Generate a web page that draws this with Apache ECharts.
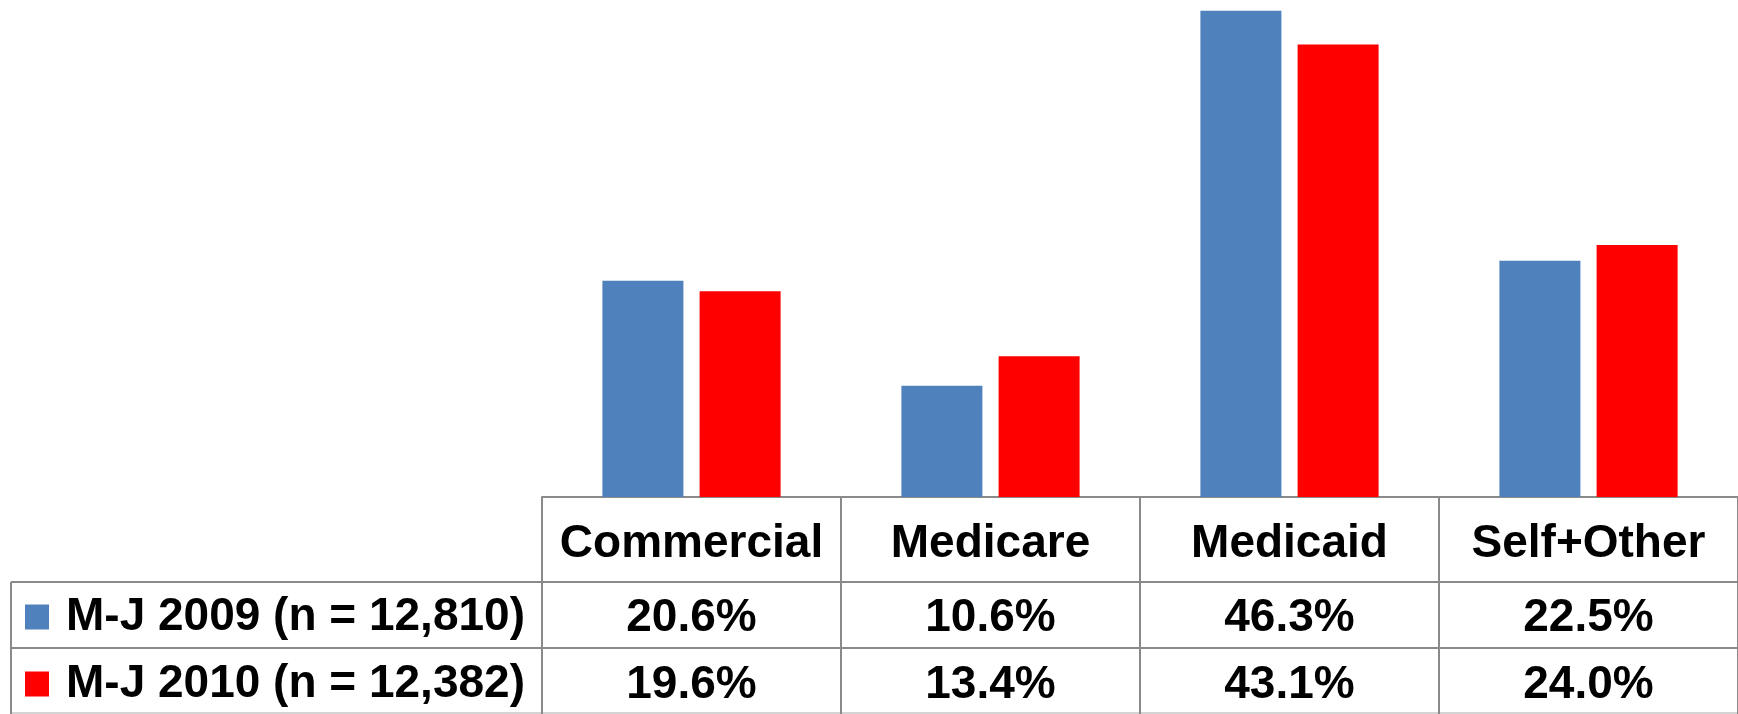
<!DOCTYPE html>
<html><head><meta charset="utf-8">
<script src="https://cdn.jsdelivr.net/npm/echarts@6/dist/echarts.min.js"></script>
<style>html,body{margin:0;padding:0;background:#fff}#c{width:1738px;height:714px}</style>
</head><body><div id="c"></div>
<script>
// ---- data ----
const categories = ['Commercial', 'Medicare', 'Medicaid', 'Self+Other'];
const seriesNames = ['M-J 2009 (n = 12,810)', 'M-J 2010 (n = 12,382)'];
const values2009 = [20.6, 10.6, 46.3, 22.5];
const values2010 = [19.6, 13.4, 43.1, 24.0];
const colors = ['#4F81BD', '#FF0000'];

// ---- layout ----
const W = 1738, H = 714;
const GRID_LEFT = 542, AXIS_Y = 497;
const ROW1 = 582, ROW2 = 648, ROW3 = 713, TABLE_LEFT = 11;
const LINE = '#8a8a8a';
const FONT = { fontFamily: '"Liberation Sans", Arial, sans-serif', fontWeight: 'bold', fontSize: 46, color: '#000' };
const fmt = v => v.toFixed(1) + '%';

const chart = echarts.init(document.getElementById('c'), null, { renderer: 'canvas' });

function valueAxis(data, margin) {
  return {
    type: 'category', gridIndex: 0, position: 'bottom', data: data,
    axisLine: { show: false }, axisTick: { show: false }, splitLine: { show: false },
    axisLabel: Object.assign({ interval: 0, margin: margin, verticalAlign: 'middle' }, FONT)
  };
}

chart.setOption({
  animation: false,
  backgroundColor: '#fff',
  grid: { left: GRID_LEFT, right: 0, top: -28, bottom: H - AXIS_Y, outerBoundsMode: 'none', containLabel: false },
  legend: {
    orient: 'vertical', left: 25, top: 594, itemGap: 21, padding: 0,
    itemWidth: 24, itemHeight: 25, icon: 'rect', selectedMode: false,
    data: seriesNames,
    textStyle: Object.assign({ lineHeight: 46, padding: [0, 0, 0, 12] }, FONT)
  },
  xAxis: [
    {
      type: 'category', gridIndex: 0, position: 'bottom', data: categories,
      axisLine: { show: true, lineStyle: { color: LINE, width: 2 } },
      axisTick: { show: true, alignWithLabel: false, inside: false, length: H - AXIS_Y, lineStyle: { color: LINE, width: 2 } },
      splitLine: { show: false },
      axisLabel: Object.assign({ interval: 0, margin: 47, verticalAlign: 'middle' }, FONT)
    },
    valueAxis(values2009.map(fmt), 121),
    valueAxis(values2010.map(fmt), 188)
  ],
  yAxis: { type: 'value', min: 0, max: 50, show: false, splitLine: { show: false } },
  series: [
    { name: seriesNames[0], type: 'bar', xAxisIndex: 0, data: values2009, barWidth: 81, barGap: '20%', itemStyle: { color: colors[0] } },
    { name: seriesNames[1], type: 'bar', xAxisIndex: 0, data: values2010, barWidth: 81, barGap: '20%', itemStyle: { color: colors[1] } }
  ],
  graphic: [
    { type: 'line', shape: { x1: TABLE_LEFT, y1: ROW1, x2: W, y2: ROW1 }, style: { stroke: LINE, lineWidth: 2 } },
    { type: 'line', shape: { x1: TABLE_LEFT, y1: ROW2, x2: W, y2: ROW2 }, style: { stroke: LINE, lineWidth: 2 } },
    { type: 'line', shape: { x1: TABLE_LEFT, y1: ROW3, x2: W, y2: ROW3 }, style: { stroke: '#d4d4d4', lineWidth: 2 } },
    { type: 'line', shape: { x1: TABLE_LEFT, y1: ROW1, x2: TABLE_LEFT, y2: H }, style: { stroke: LINE, lineWidth: 2 } }
  ]
});
</script></body></html>
